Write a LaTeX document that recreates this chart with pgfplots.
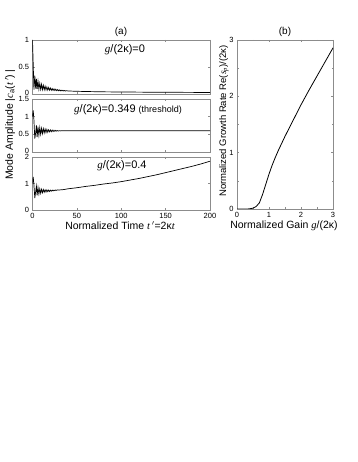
\documentclass[border=0pt]{standalone}
\usepackage{fontspec}
\setmainfont{Liberation Sans}
\newfontfamily\serif{Liberation Serif}
\usepackage{pgfplots}
\pgfplotsset{compat=1.18}
\newcommand{\vi}[1]{{\serif\itshape #1}}
\definecolor{frame}{HTML}{8C8C8C}
\pgfplotsset{
  mpanel/.style={
    scale only axis,
    axis line style={frame, line width=0.5pt},
    tick style={frame, line width=0.5pt},
    tick align=inside,
    major tick length=2.2pt,
    tick label style={font=\fontsize{7.5}{8}\selectfont},
    /pgf/number format/assume math mode=true,
    clip=true,
  },
  leftpanel/.style={
    mpanel,
    width=177.5pt,
    height=53pt,
    xmin=0, xmax=200,
    xtick={0,50,100,150,200},
    xticklabels={},
  },
  curve/.style={black, line width=0.7pt, mark=none},
}
\begin{document}
\begin{tikzpicture}[x=1pt,y=1pt]
\fill[white] (0,0) rectangle (357,462);
\path[use as bounding box] (0,0) rectangle (357,462);

% panel (a), top: g/(2k)=0
\begin{axis}[leftpanel, at={(32.5pt,368pt)}, anchor=south west, height=54pt,
  ymin=0, ymax=1, ytick={0,0.5,1}, yticklabels={\raisebox{2.5pt}{0},0.5,1}]
\addplot[curve] coordinates {
(0,1.0)(0.8,0.55)(1.6,0.08)(2.6,0.34)(3.6,0.1)(4.4,0.28)(5.2,0.09)(6.2,0.24)
(7.2,0.09)(8.2,0.2)(9.2,0.085)(10.2,0.18)(11.2,0.08)(12.2,0.16)(13.2,0.078)
(14.2,0.145)(15.2,0.075)(16.2,0.13)(17.2,0.072)(18.2,0.12)(19.2,0.07)(20.2,0.11)
(21.2,0.068)(22.2,0.1)(23.2,0.066)(24.2,0.094)(25.2,0.064)(26.2,0.088)(27.2,0.062)
(28.2,0.082)(29.2,0.06)(30.2,0.077)(31.2,0.058)(32.2,0.072)(33.2,0.057)(34.2,0.068)
(35.2,0.056)(36.2,0.064)(37.2,0.055)(38.2,0.061)(40,0.056)(45,0.053)(50,0.05)
(60,0.046)(70,0.043)(80,0.04)(100,0.037)(125,0.034)(150,0.032)(175,0.03)(200,0.028)
};
\end{axis}

% panel (a), middle: threshold
\begin{axis}[leftpanel, at={(32.5pt,310pt)}, anchor=south west,
  ymin=0, ymax=1.5, ytick={0,0.5,1,1.5},
  yticklabels={\raisebox{2.5pt}{0},0.5,1,\raisebox{-2.5pt}{1.5}}]
\addplot[curve] coordinates {
(0,1.0)(0.8,1.18)(1.6,0.9)(2.6,0.38)(3.6,0.55)(4.4,0.75)(5.2,0.42)(6.2,0.72)
(7.2,0.47)(8.2,0.69)(9.2,0.5)(10.2,0.67)(11.2,0.52)(12.2,0.66)(13.2,0.54)
(14.2,0.65)(15.2,0.55)(16.2,0.64)(17.2,0.56)(18.2,0.63)(19.2,0.57)(20.2,0.625)
(21.2,0.575)(22.2,0.62)(23.2,0.58)(24.2,0.615)(25.2,0.585)(26.2,0.61)(27.2,0.59)
(28.2,0.607)(29.2,0.593)(30.2,0.604)(31.2,0.596)(32.2,0.603)(34,0.598)(36,0.601)
(40,0.6)(200,0.6)
};
\end{axis}

% panel (a), bottom: g/(2k)=0.4
\begin{axis}[leftpanel, at={(32.5pt,252pt)}, anchor=south west,
  ymin=0, ymax=2, ytick={0,1,2}, yticklabels={0,1,\raisebox{-2.5pt}{2}},
  xticklabels={0,50,100,150,200}]
\addplot[curve] coordinates {
(0,1.0)(0.8,1.25)(1.6,0.95)(2.6,0.45)(3.6,0.7)(4.4,0.9)(5.2,0.55)(6.2,0.85)
(7.2,0.6)(8.2,0.8)(9.2,0.63)(10.2,0.78)(11.2,0.65)(12.2,0.77)(13.2,0.67)
(14.2,0.76)(15.2,0.68)(16.2,0.76)(17.2,0.69)(18.2,0.755)(19.2,0.7)(20.2,0.75)
(21.2,0.71)(22.2,0.75)(23.2,0.72)(24.2,0.75)(25.2,0.73)(26.2,0.755)(27.2,0.74)
(28.2,0.76)(30,0.755)(35,0.77)(40,0.8)(50,0.84)(60,0.89)(70,0.93)(80,0.98)
(90,1.02)(100,1.07)(110,1.13)(120,1.19)(130,1.26)(140,1.33)(150,1.41)
(160,1.49)(170,1.57)(180,1.65)(190,1.74)(200,1.84)
};
\end{axis}

% panel (b)
\begin{axis}[mpanel, at={(237pt,253pt)}, anchor=south west, width=96pt, height=169pt,
  xmin=0, xmax=3, ymin=0, ymax=3, xtick={0,1,2,3}, ytick={0,1,2,3},
  minor xtick={0.5,1.5,2.5}, minor ytick={0.5,1.5,2.5}, minor tick length=1.5pt]
\addplot[curve, line width=0.8pt] coordinates {
(0,0)(0.32,0)(0.4,0.004)(0.5,0.015)(0.6,0.045)(0.7,0.11)(0.8,0.26)(0.9,0.44)
(1.0,0.62)(1.1,0.78)(1.2,0.92)(1.3,1.05)(1.4,1.17)(1.5,1.29)(1.75,1.57)(2.0,1.85)
(2.25,2.11)(2.5,2.36)(2.75,2.61)(3.0,2.86)
};
\end{axis}

% titles and labels
\node[font=\fontsize{10}{12}\selectfont] at (121,430) {(a)};
\node[font=\fontsize{10}{12}\selectfont] at (285,430) {(b)};
\node[font=\fontsize{10.5}{12}\selectfont] at (120,236) {Normalized Time \vi{t}\,$'$=2κ\vi{t}};
\node[font=\fontsize{10.5}{12}\selectfont] at (284,236) {Normalized Gain \vi{g}/(2κ)};
\node[font=\fontsize{10.5}{12}\selectfont, rotate=90] at (10,337)
  {Mode Amplitude |\vi{c}\textsubscript{a}(\vi{t}\,$'$)\,|};
\node[font=\fontsize{9.5}{11}\selectfont, rotate=90] at (224,341)
  {Normalized Growth Rate Re(\vi{s}\textsubscript{\vi{p}})/(2κ)};
\node[font=\fontsize{11}{12}\selectfont] at (125,412) {\vi{g}/(2κ)=0};
\node[font=\fontsize{11}{12}\selectfont] at (128,352)
  {\vi{g}/(2κ)=0.349 {\fontsize{9}{10}\selectfont (threshold)}};
\node[font=\fontsize{11}{12}\selectfont] at (122,296) {\vi{g}/(2κ)=0.4};
\end{tikzpicture}
\end{document}
